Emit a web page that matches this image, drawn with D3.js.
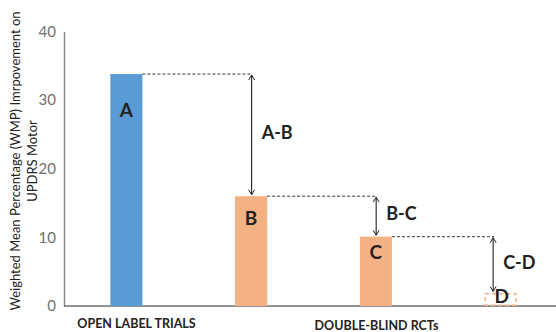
<!DOCTYPE html>
<html><head><meta charset="utf-8">
<script src="https://cdn.jsdelivr.net/npm/d3@7"></script>
<style>body{margin:0;background:#fff}svg{display:block}</style>
</head><body><svg id="c" width="556" height="332"></svg>
<script>
const bars = ["A","B","C","D"];
const values = [33.8, 16.0, 10.1, 1.9];
const barKinds = ["solid","solid","solid","dashed"];
const barColors = ["#5B9BD5","#F4B183","#F4B183","#F4B183"];
const diffLabels = ["A-B","B-C","C-D"];
const yTicks = [0,10,20,30,40];
const groupLabels = ["OPEN LABEL TRIALS","DOUBLE-BLIND RCTs"];
const groupCenters = [136.5, 376.5];
const yTitle = ["Weighted Mean Percentage (WMP) Imrpovement on","UPDRS Motor"];

const svg = d3.select("#c");
const font = "Lato, 'Open Sans', sans-serif";
const x = d3.scaleBand().domain(bars).range([64, 563]).paddingInner(0.743).paddingOuter(0.3715);
const y = d3.scaleLinear().domain([0,40]).range([306, 31.5]);

// y axis
const yAxis = svg.append("g").attr("transform","translate(64,0)")
  .call(d3.axisLeft(y).tickValues(yTicks).tickSize(0).tickPadding(8));
yAxis.select(".domain").attr("stroke","#8a8a8a").attr("stroke-width",1.5);
yAxis.selectAll("text").attr("font-family",font).attr("font-size",15).attr("fill","#6f6f6f");

// x axis line
svg.append("line").attr("x1",64).attr("x2",556).attr("y1",y(0)).attr("y2",y(0))
  .attr("stroke","#6f6f6f").attr("stroke-width",1.3);

// bars
bars.forEach((b,i)=>{
  const r = svg.append("rect").attr("x",x(b)).attr("width",x.bandwidth())
    .attr("y",y(values[i])).attr("height",y(0)-y(values[i]));
  if(barKinds[i]==="solid") r.attr("fill",barColors[i]);
  else r.attr("x",x(b)+0.75).attr("width",x.bandwidth()-1.5).attr("y",y(values[i])+0.75)
        .attr("height",y(0)-y(values[i])-1.5).attr("fill","none")
        .attr("stroke",barColors[i]).attr("stroke-width",1.5).attr("stroke-dasharray","4,3");
});

// arrow marker
const defs = svg.append("defs");
["s","e"].forEach(k=>{
  defs.append("marker").attr("id","m"+k).attr("viewBox","-6 -4 7 8").attr("refX",0).attr("refY",0)
    .attr("markerWidth",7).attr("markerHeight",8).attr("markerUnits","userSpaceOnUse").attr("orient","auto-start-reverse")
    .append("path").attr("d","M-5,-3 L0,0 L-5,3").attr("fill","none").attr("stroke","#222").attr("stroke-width",1);
});

const arrowDx = [0.5, 0.3, -7.5];
diffLabels.forEach((lab,i)=>{
  const b0 = bars[i], b1 = bars[i+1];
  const ax = x(b1) + x.bandwidth()/2 + arrowDx[i];
  const y0 = y(values[i]), y1 = y(values[i+1]);
  svg.append("line").attr("x1",x(b0)+x.bandwidth()).attr("x2",ax+1).attr("y1",y0).attr("y2",y0)
    .attr("stroke","#333").attr("stroke-width",1).attr("stroke-dasharray","3,2");
  svg.append("line").attr("x1",ax).attr("x2",ax).attr("y1",y0+1).attr("y2",y1-1.5)
    .attr("stroke","#222").attr("stroke-width",1.1)
    .attr("marker-start","url(#ms)").attr("marker-end","url(#me)");
  svg.append("text").attr("x",ax+10).attr("y",(y0+y1)/2+4).attr("font-family",font)
    .attr("font-weight","bold").attr("font-size",18).attr("fill","#222").text(lab);
});

// bar letters
const letterDy = [43, 29, 22, 10];
bars.forEach((b,i)=>{
  svg.append("text").attr("x",x(b)+x.bandwidth()/2 - (i===3?-1:0)).attr("y",y(values[i])+letterDy[i])
    .attr("text-anchor","middle").attr("font-family",font).attr("font-weight","bold")
    .attr("font-size",19).attr("fill","#222").text(b);
});

// group labels
groupLabels.forEach((g,i)=>{
  svg.append("text").attr("x",groupCenters[i]).attr("y",328+i*1.5).attr("text-anchor","middle")
    .attr("font-family",font).attr("font-weight","bold").attr("font-size",12.5).attr("fill","#222").text(g);
});

// y title
yTitle.forEach((t,i)=>{
  svg.append("text").attr("transform",`translate(${20+i*17},161) rotate(-90)`)
    .attr("text-anchor","middle").attr("font-family",font).attr("font-size",13).attr("fill","#222").text(t);
});
</script></body></html>
